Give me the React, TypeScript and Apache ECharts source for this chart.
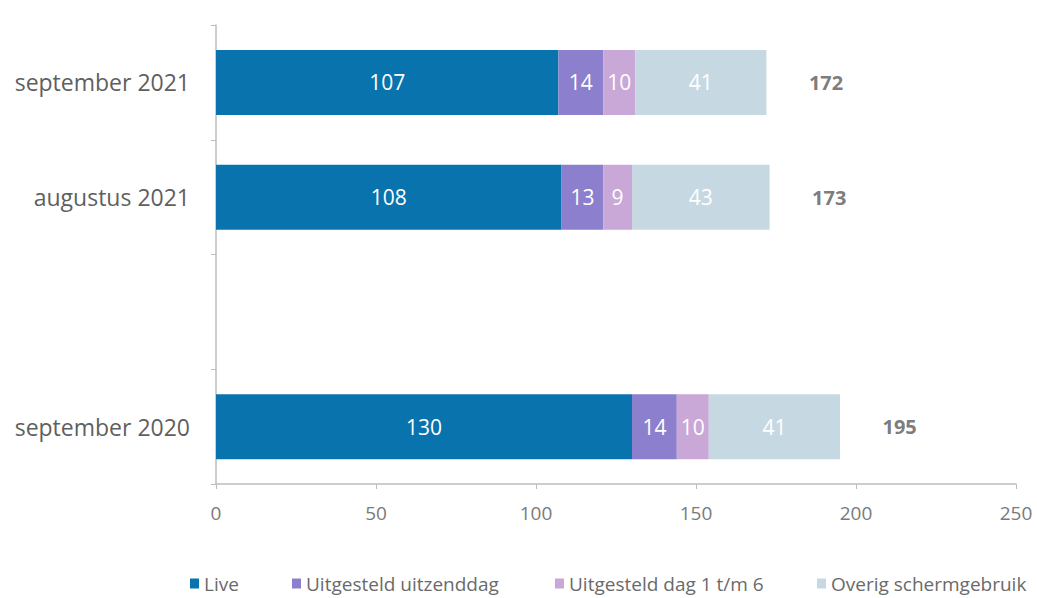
import React, { useEffect, useRef } from "react";
import * as echarts from "echarts";

const categories = ["september 2020", "", "augustus 2021", "september 2021"];
const seriesNames = ["Live", "Uitgesteld uitzenddag", "Uitgesteld dag 1 t/m 6", "Overig schermgebruik"];
const live = [130, null, 108, 107];
const uitzenddag = [14, null, 13, 14];
const dag1tm6 = [10, null, 9, 10];
const overig = [41, null, 43, 41];
const totals = [195, null, 173, 172];
const xTicks = [0, 50, 100, 150, 200, 250];

const colors = ["#0873ad", "#8c7fcd", "#c9a7d7", "#c6d9e3"];
const FONT = "Open Sans";

export default function App() {
  const ref = useRef<HTMLDivElement>(null);
  useEffect(() => {
    if (!ref.current) return;
    const chart = echarts.init(ref.current, undefined, { renderer: "svg" });
    const values = [live, uitzenddag, dag1tm6, overig];
    const legendLefts = [190, 292, 555, 817];
    chart.setOption({
      animation: false,
      textStyle: { fontFamily: FONT },
      grid: { left: 216, right: 21, top: 25, bottom: 114, containLabel: false },
      xAxis: {
        type: "value",
        min: xTicks[0],
        max: xTicks[xTicks.length - 1],
        interval: 50,
        axisLine: { show: true, lineStyle: { color: "#bdbdbd", width: 1.5 } },
        axisTick: { show: true, length: 5, lineStyle: { color: "#bdbdbd" } },
        splitLine: { show: false },
        axisLabel: { color: "#7a7a7a", fontSize: 19, margin: 19, fontFamily: FONT },
      },
      yAxis: {
        type: "category",
        data: categories,
        axisLine: { show: true, lineStyle: { color: "#bdbdbd", width: 1.5 } },
        axisTick: { show: true, length: 5, inside: false, lineStyle: { color: "#bdbdbd" } },
        axisLabel: { color: "#5f5f5f", fontSize: 23, margin: 26, fontFamily: FONT },
      },
      legend: seriesNames.map((n, i) => ({
        data: [n],
        left: legendLefts[i],
        top: 574,
        padding: 0,
        itemWidth: 9,
        itemHeight: 10,
        icon: "rect",
        textStyle: { color: "#6a6a6a", fontSize: 19, fontFamily: FONT },
      })),
      series: [
        ...seriesNames.map((n, i) => ({
          name: n,
          type: "bar",
          stack: "total",
          barWidth: 65,
          data: values[i],
          itemStyle: { color: colors[i] },
          label: {
            show: true,
            position: "inside",
            color: "#ffffff",
            fontSize: 21,
            fontFamily: FONT,
          },
        })),
        {
          name: "Totaal",
          type: "scatter",
          symbolSize: 1,
          itemStyle: { color: "rgba(0,0,0,0)" },
          data: totals.map((t, i) => (t == null ? null : [t, i])),
          label: {
            show: true,
            position: "right",
            distance: 42,
            color: "#595959",
            fontWeight: "bold",
            fontSize: 20,
            fontFamily: FONT,
            formatter: (p: any) => String(p.value[0]),
          },
        },
      ],
    });
    return () => chart.dispose();
  }, []);
  return (
    <div
      ref={ref}
      style={{ position: "fixed", left: 0, top: 0, width: 1037, height: 598, background: "#fff" }}
    />
  );
}
